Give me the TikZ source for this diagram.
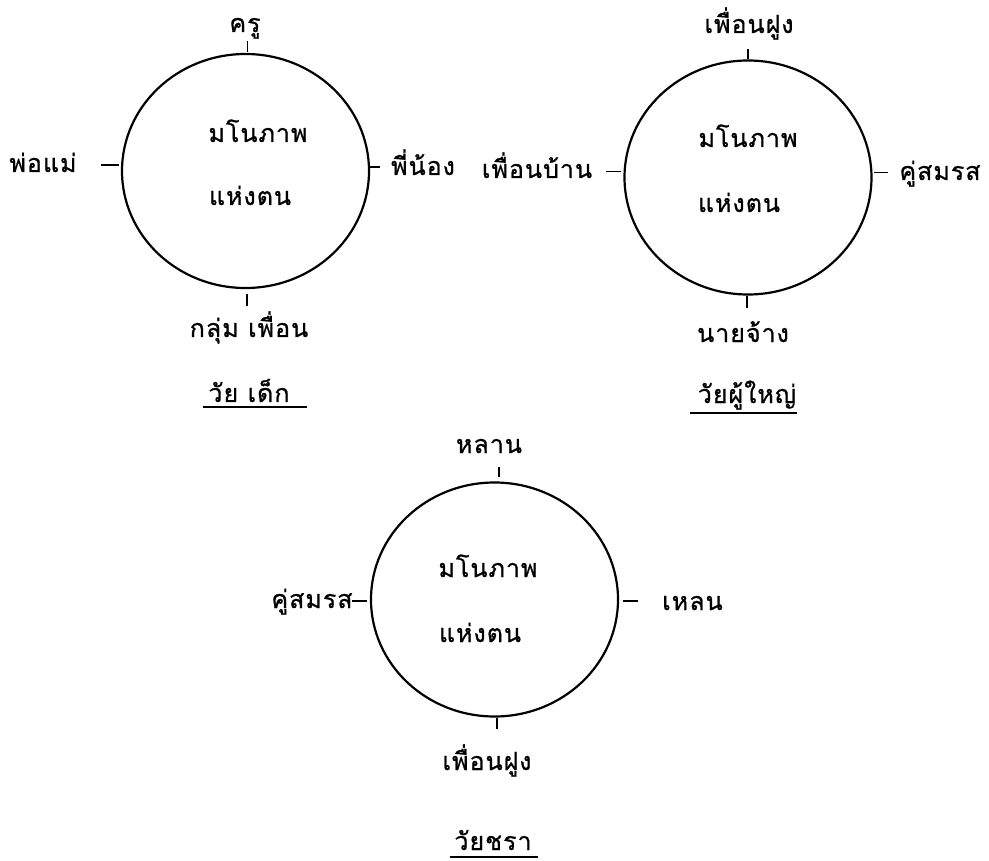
\documentclass[tikz,border=0pt]{standalone}
\usepackage{fontspec}
\newfontfamily\thaifont[Script=Thai,LetterSpace=4,FakeBold=0.8]{Loma}
\usetikzlibrary{shapes.geometric}
\begin{document}
\begin{tikzpicture}[x=1pt,y=-1pt,
  lbl/.style={font=\thaifont\fontsize{25}{27}\selectfont, inner sep=0pt, anchor=base},
  ring/.style={draw, line width=2.2pt, ellipse, inner sep=0pt, minimum width=247pt, minimum height=234pt},
  tick/.style={line width=1.5pt},
  uline/.style={line width=1.5pt}]
\useasboundingbox (0,0) rectangle (989,861);

% ---------- childhood ----------
\node[ring] (c1) at (245.5,171) {};
\node[lbl] (c1a) at (258,142) {มโนภาพ};
\node[lbl] (c1b) at (250,205) {แห่งตน};
\node[lbl] (kru) at (245,32) {ครู};
\node[lbl] (pm) at (43,172) {พ่อแม่};
\node[lbl] (pn) at (423,175) {พี่น้อง};
\node[lbl] (kp) at (249,337) {กลุ่ม เพื่อน};
\node[lbl] (t1) at (249,402) {วัย เด็ก};
\draw[tick] ([xshift=2pt,yshift=1pt]c1.north) -- ([xshift=2pt,yshift=12pt]c1.north);
\draw[tick] ([xshift=-2pt,yshift=6pt]c1.west) -- ([xshift=-20pt,yshift=6pt]c1.west);
\draw[tick] ([xshift=0pt,yshift=4pt]c1.east) -- ([xshift=10pt,yshift=4pt]c1.east);
\draw[tick] ([xshift=1.5pt,yshift=-5pt]c1.south) -- ([xshift=1.5pt,yshift=-17pt]c1.south);
\coordinate (u1a) at (203,407);
\coordinate (u1b) at (307,407);
\draw[uline] (u1a) -- (u1b);

% ---------- adulthood ----------
\node[ring] (c2) at (748,177.5) {};
\node[lbl] (c2a) at (748,147) {มโนภาพ};
\node[lbl] (c2b) at (739,212) {แห่งตน};
\node[lbl] (pf) at (749,33) {เพื่อนฝูง};
\node[lbl] (pb) at (537,178) {เพื่อนบ้าน};
\node[lbl] (ks) at (940,180) {คู่สมรส};
\node[lbl] (nj) at (743,342) {นายจ้าง};
\node[lbl] (t2) at (747,403) {วัยผู้ใหญ่};
\draw[tick] ([yshift=0pt]c2.north) -- ([yshift=10pt]c2.north);
\draw[tick] ([xshift=-2pt,yshift=6pt]c2.west) -- ([xshift=-17pt,yshift=6pt]c2.west);
\draw[tick] ([xshift=1pt,yshift=5pt]c2.east) -- ([xshift=15pt,yshift=5pt]c2.east);
\draw[tick] ([xshift=-1pt,yshift=0pt]c2.south) -- ([xshift=-1pt,yshift=-12pt]c2.south);
\coordinate (u2a) at (690,413);
\coordinate (u2b) at (797,413);
\draw[uline] (u2a) -- (u2b);

% ---------- old age ----------
\node[ring] (c3) at (494.5,599.5) {};
\node[lbl] (c3a) at (488,577) {มโนภาพ};
\node[lbl] (c3b) at (480,642) {แห่งตน};
\node[lbl] (ln) at (489,453) {หลาน};
\node[lbl] (ks3) at (312,608) {คู่สมรส};
\node[lbl,anchor=base west] (le) at (662,610) {เหลน};
\node[lbl] (pf3) at (487,770) {เพื่อนฝูง};
\node[lbl] (t3) at (493,850) {วัยชรา};
\draw[tick] ([xshift=4.5pt,yshift=4pt]c3.north) -- ([xshift=4.5pt,yshift=14pt]c3.north);
\draw[tick] ([xshift=-2.5pt,yshift=-1.5pt]c3.west) -- ([xshift=-17.5pt,yshift=-1.5pt]c3.west);
\draw[tick] ([xshift=3.5pt,yshift=-1.5pt]c3.east) -- ([xshift=18.5pt,yshift=-1.5pt]c3.east);
\draw[tick] ([xshift=2.5pt,yshift=0pt]c3.south) -- ([xshift=2.5pt,yshift=-11pt]c3.south);
\coordinate (u3a) at (450,857);
\coordinate (u3b) at (538,857);
\draw[uline] (u3a) -- (u3b);
\end{tikzpicture}
\end{document}
